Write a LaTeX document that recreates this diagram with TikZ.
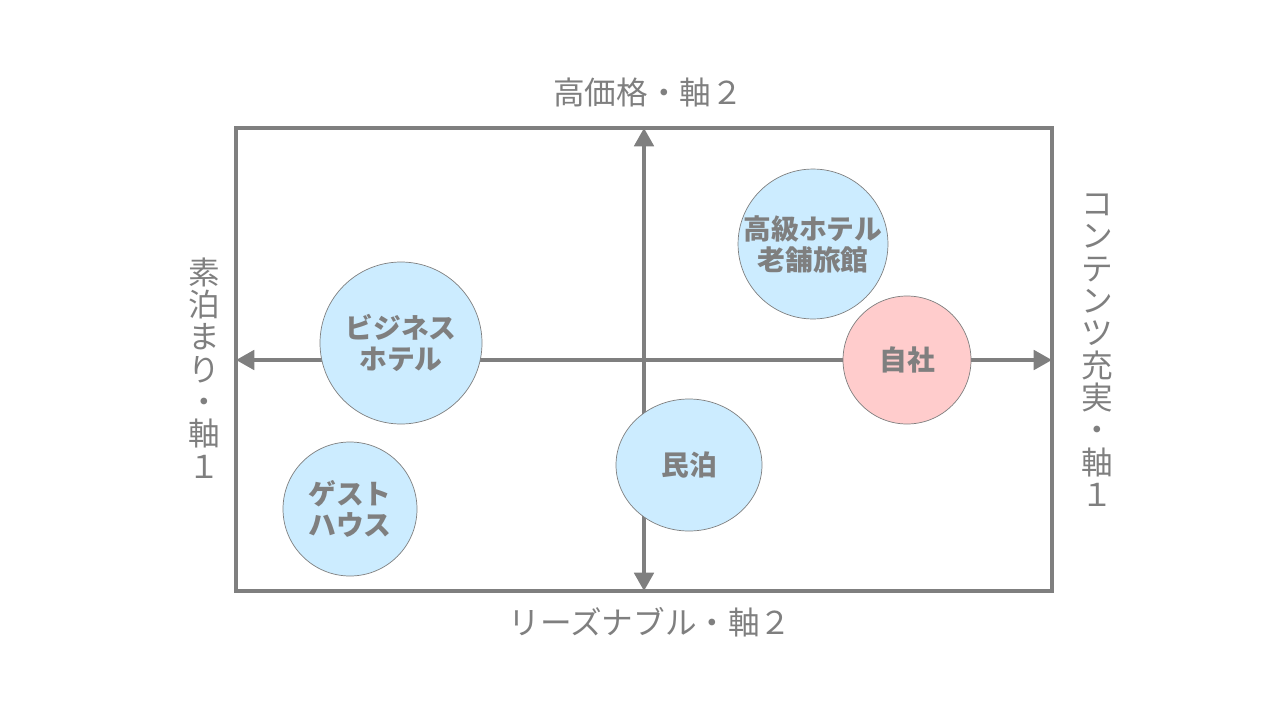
\documentclass[tikz,border=0pt]{standalone}
\usepackage{fontspec}
\setmainfont{Noto Sans CJK JP}
\usepackage{tikz}
\usetikzlibrary{arrows.meta, positioning, shapes.geometric}
\definecolor{axisgray}{HTML}{7F7F7F}
\definecolor{bubbleblue}{HTML}{CCECFF}
\definecolor{bubblepink}{HTML}{FFCCCC}
\newlength{\pxu}
\setlength{\pxu}{0.02cm}
\tikzset{
  axisline/.style={draw=axisgray, line width=2.2pt},
  axistip/.style={{Triangle[width=11pt, length=10.4pt]}-{Triangle[width=11pt, length=10.4pt]}},
  axislabel/.style={text=axisgray, inner sep=0pt, font=\fontsize{18}{18.4}\selectfont},
  sidelabel/.style={axislabel, align=center},
  bubble/.style={circle, draw=axisgray, line width=0.4pt, fill=bubbleblue, text=axisgray,
    font=\bfseries\fontsize{15.8}{17.6}\selectfont, align=center, inner sep=0pt},
}

\begin{document}
\begin{tikzpicture}[x=0.02cm, y=-0.02cm]
    \useasboundingbox (0,0) rectangle (1280,720);
    % Frame
    \coordinate (nw) at (236,128);
    \coordinate (se) at (1052,591);
    \draw[axisline] (nw) rectangle (se);

    % Axes
    \coordinate (left) at (236,360);
    \coordinate (right) at (1052,360);
    \coordinate (top) at (644,128);
    \coordinate (bottom) at (644,591);
    \draw[axisline, axistip] (left) -- (right);
    \draw[axisline, axistip] (bottom) -- (top);

    \node[axislabel] (high) at (648,92) {高価格・軸２};
    \node[axislabel] (low) at (650,622) {リーズナブル・軸２};
    \node[sidelabel] (plain) at (204,368) {素\\泊\\ま\\り\\・\\軸\\１};
    \node[sidelabel] (rich) at (1097,350) {コ\\ン\\テ\\ン\\ツ\\充\\実\\・\\軸\\１};

    % Bubbles
    \node[bubble, minimum size=162\pxu] (biz) at (401,343) {ビジネス\\ホテル};
    \node[bubble, minimum size=134\pxu] (guest) at (350,509) {ゲスト\\ハウス};
    \node[bubble, ellipse, minimum width=146\pxu, minimum height=132\pxu] (minpaku) at (689,465) {民泊};
    \node[bubble, minimum size=142\pxu] (luxury) at (813,244) {高級ホテル\\老舗旅館};
    \node[bubble, fill=bubblepink, minimum size=128\pxu] (own) at (907,360) {自社};
\end{tikzpicture}
\end{document}
